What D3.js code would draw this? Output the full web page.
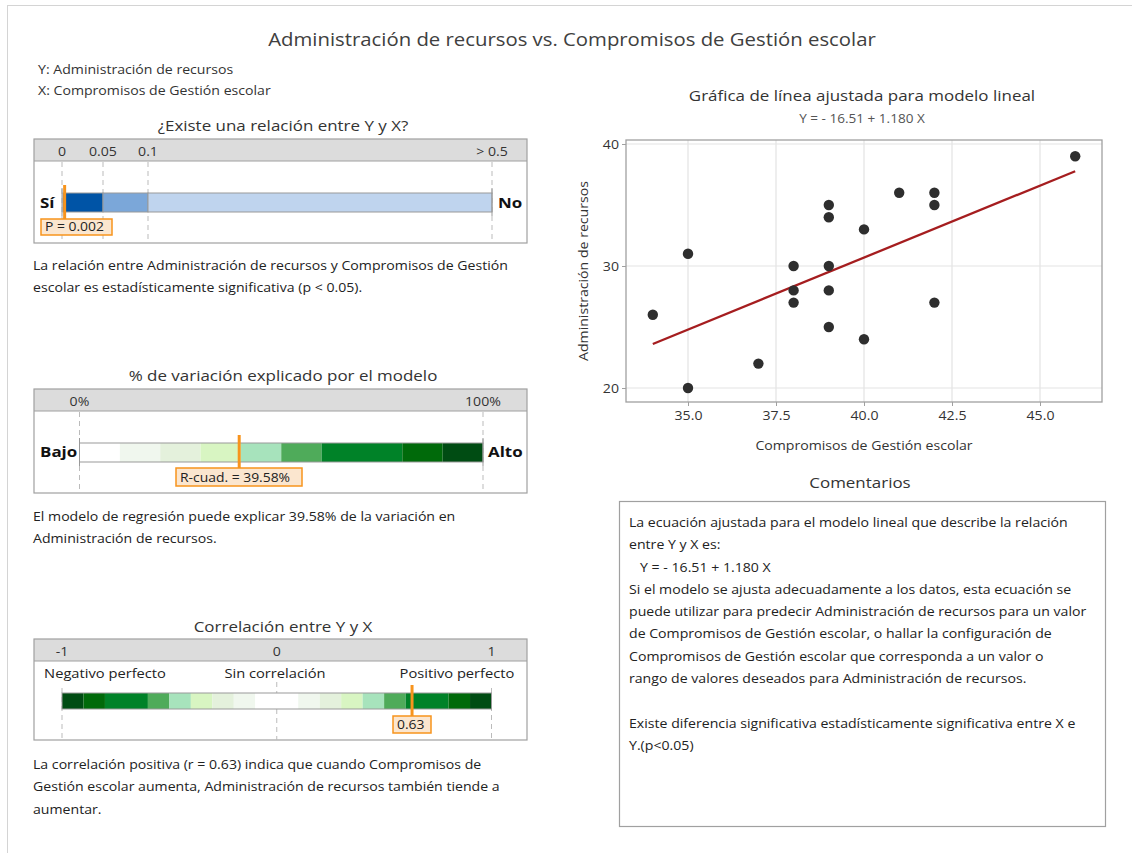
<!DOCTYPE html>
<html>
<head>
<meta charset="utf-8">
<script src="https://cdn.jsdelivr.net/npm/d3@7"></script>
<style>
  html, body { margin: 0; padding: 0; background: #fff; }
  svg text { font-family: "Open Sans", "Noto Sans", sans-serif; }
</style>
</head>
<body>
<svg id="chart" width="1132" height="853"></svg>
<script>
// ---------- DATA ----------
const xCompromisos = [34, 35, 35, 37, 38, 38, 38, 39, 39, 39, 39, 39, 40, 40, 41, 42, 42, 42, 46];
const yAdministracion = [26, 31, 20, 22, 30, 28, 27, 35, 34, 30, 28, 25, 33, 24, 36, 36, 35, 27, 39];
const intercept = -16.51;
const slope = 1.180;
const pValue = 0.002;
const rSquared = 39.58;
const rValue = 0.63;

const pTickValues = [0, 0.05, 0.1, 0.5];
const pTickLabels = ["0", "0.05", "0.1", "> 0.5"];
const pSegments = [[0, 0.05], [0.05, 0.1], [0.1, 0.5]];
const pColors = ["#0054a6", "#7ba7d9", "#bfd4ee"];

const r2TickValues = [0, 100];
const r2TickLabels = ["0%", "100%"];
const r2Bounds = [0, 10, 20, 30, 40, 50, 60, 80, 90, 100];
const greenColors = ["#ffffff", "#f0f7ee", "#e4f1dc", "#d8f5c2", "#a7e3bc", "#4fab5a", "#008228", "#006a0a", "#004c13"];

const rTickValues = [-1, 0, 1];
const rTickLabels = ["-1", "0", "1"];
const rBounds = [-1, -0.9, -0.8, -0.6, -0.5, -0.4, -0.3, -0.2, -0.1, 0.1, 0.2, 0.3, 0.4, 0.5, 0.6, 0.8, 0.9, 1];
const rColors = ["#004c13", "#006a0a", "#008228", "#4fab5a", "#a7e3bc", "#d8f5c2", "#e4f1dc", "#f0f7ee", "#ffffff",
                 "#f0f7ee", "#e4f1dc", "#d8f5c2", "#a7e3bc", "#4fab5a", "#008228", "#006a0a", "#004c13"];
const rLabels = ["Negativo perfecto", "Sin correlación", "Positivo perfecto"];

const xTicks = [35.0, 37.5, 40.0, 42.5, 45.0];
const yTicks = [20, 30, 40];

const commentLines = [
  "La ecuación ajustada para el modelo lineal que describe la relación",
  "entre Y y X es:",
  "   Y = - 16.51 + 1.180 X",
  "Si el modelo se ajusta adecuadamente a los datos, esta ecuación se",
  "puede utilizar para predecir Administración de recursos para un valor",
  "de Compromisos de Gestión escolar, o hallar la configuración de",
  "Compromisos de Gestión escolar que corresponda a un valor o",
  "rango de valores deseados para Administración de recursos.",
  "",
  "Existe diferencia significativa estadísticamente significativa entre X e",
  "Y.(p<0.05)"
];

// ---------- DRAW ----------
const svg = d3.select("#chart");
const textCol = "#333";
const orange = "#f7941d";

// page frame
svg.append("line").attr("x1", 7).attr("x2", 1132).attr("y1", 5.5).attr("y2", 5.5).attr("stroke", "#d4d4d4");
svg.append("line").attr("x1", 7.5).attr("x2", 7.5).attr("y1", 5).attr("y2", 853).attr("stroke", "#d4d4d4");

svg.append("text").attr("x", 572).attr("y", 46).attr("text-anchor", "middle")
  .attr("font-size", 18).attr("fill", "#404040")
  .text("Administración de recursos vs. Compromisos de Gestión escolar");

svg.append("text").attr("x", 38).attr("y", 74).attr("font-size", 12.5).attr("fill", textCol).text("Y: Administración de recursos");
svg.append("text").attr("x", 38).attr("y", 95).attr("font-size", 12.5).attr("fill", textCol).text("X: Compromisos de Gestión escolar");

function bodyText(lines, x, y0, dy) {
  lines.forEach((l, i) => {
    svg.append("text").attr("x", x).attr("y", y0 + i * dy).attr("font-size", 12.5).attr("fill", "#222").text(l);
  });
}

function panelBox(title, titleY, boxTop, boxBottom) {
  svg.append("text").attr("x", 283).attr("y", titleY).attr("text-anchor", "middle")
    .attr("font-size", 15).attr("fill", "#333").text(title);
  svg.append("rect").attr("x", 34).attr("y", boxTop).attr("width", 493).attr("height", 22)
    .attr("fill", "#dcdcdc");
  svg.append("rect").attr("x", 34).attr("y", boxTop).attr("width", 493).attr("height", boxBottom - boxTop)
    .attr("fill", "none").attr("stroke", "#a0a0a0").attr("stroke-width", 1.2);
  svg.append("line").attr("x1", 34).attr("x2", 527).attr("y1", boxTop + 22).attr("y2", boxTop + 22)
    .attr("stroke", "#a0a0a0").attr("stroke-width", 1.2);
}

function marker(x, yTop, yBot, label, lx0, lx1, ly0, ly1) {
  svg.append("rect").attr("x", lx0).attr("y", ly0).attr("width", lx1 - lx0).attr("height", ly1 - ly0)
    .attr("fill", "#fbe6cf").attr("stroke", orange).attr("stroke-width", 1.5);
  svg.append("text").attr("x", lx0 + 4).attr("y", ly1 - 4).attr("font-size", 12.3).attr("fill", "#222").text(label);
  svg.append("line").attr("x1", x).attr("x2", x).attr("y1", yTop).attr("y2", yBot)
    .attr("stroke", orange).attr("stroke-width", 3);
}

// ---- Panel 1: p-value ----
{
  const top = 139, bot = 243;
  panelBox("¿Existe una relación entre Y y X?", 131, top, bot);
  const px = d3.scaleLinear().domain(pTickValues).range([62, 103, 148, 492]);
  pTickValues.forEach((v, i) => {
    svg.append("text").attr("x", px(v)).attr("y", 156).attr("text-anchor", "middle")
      .attr("font-size", 12.5).attr("fill", textCol).text(pTickLabels[i]);
    svg.append("line").attr("x1", px(v)).attr("x2", px(v)).attr("y1", top + 23).attr("y2", bot)
      .attr("stroke", "#bbb").attr("stroke-dasharray", "5,4");
  });
  svg.selectAll(".pseg").data(pSegments).join("rect")
    .attr("x", d => px(d[0]) + (d[0] === 0 ? 1 : 0)).attr("y", 193)
    .attr("width", d => px(d[1]) - px(d[0]) - (d[0] === 0 ? 1 : 0)).attr("height", 19)
    .attr("fill", (d, i) => pColors[i]).attr("stroke", "#999").attr("stroke-width", 1);
  svg.append("line").attr("x1", px(0)).attr("x2", px(0)).attr("y1", 188).attr("y2", 216).attr("stroke", "#999");
  svg.append("line").attr("x1", px(0.5)).attr("x2", px(0.5)).attr("y1", 188).attr("y2", 216).attr("stroke", "#999");
  svg.append("text").attr("x", 40).attr("y", 208).attr("font-size", 15).attr("font-weight", "bold").attr("fill", "#111").text("Sí");
  svg.append("text").attr("x", 498).attr("y", 208).attr("font-size", 15).attr("font-weight", "bold").attr("fill", "#111").text("No");
  marker(px(pValue) + 1, 185, 219, "P = 0.002", 41, 112, 219, 235);
  bodyText(["La relación entre Administración de recursos y Compromisos de Gestión",
            "escolar es estadísticamente significativa (p < 0.05)."], 33, 270, 22.5);
}

// ---- Panel 2: R-squared ----
{
  const top = 389, bot = 493;
  panelBox("% de variación explicado por el modelo", 381, top, bot);
  const rx = d3.scaleLinear().domain([0, 100]).range([79.5, 483]);
  r2TickValues.forEach((v, i) => {
    svg.append("text").attr("x", rx(v)).attr("y", 406).attr("text-anchor", "middle")
      .attr("font-size", 12.5).attr("fill", textCol).text(r2TickLabels[i]);
    svg.append("line").attr("x1", rx(v)).attr("x2", rx(v)).attr("y1", top + 23).attr("y2", bot)
      .attr("stroke", "#bbb").attr("stroke-dasharray", "5,4");
  });
  const segs = d3.pairs(r2Bounds);
  svg.selectAll(".r2seg").data(segs).join("rect")
    .attr("x", d => rx(d[0])).attr("y", 443)
    .attr("width", d => rx(d[1]) - rx(d[0])).attr("height", 19)
    .attr("fill", (d, i) => greenColors[i]);
  svg.append("rect").attr("x", rx(0)).attr("y", 443).attr("width", rx(100) - rx(0)).attr("height", 19)
    .attr("fill", "none").attr("stroke", "#999");
  svg.append("line").attr("x1", rx(0)).attr("x2", rx(0)).attr("y1", 438).attr("y2", 466).attr("stroke", "#999");
  svg.append("line").attr("x1", rx(100)).attr("x2", rx(100)).attr("y1", 438).attr("y2", 466).attr("stroke", "#999");
  svg.append("text").attr("x", 40).attr("y", 457).attr("font-size", 15).attr("font-weight", "bold").attr("fill", "#111").text("Bajo");
  svg.append("text").attr("x", 488).attr("y", 457).attr("font-size", 15).attr("font-weight", "bold").attr("fill", "#111").text("Alto");
  marker(rx(rSquared), 435, 468, "R-cuad. = 39.58%", 176, 302, 468, 486);
  bodyText(["El modelo de regresión puede explicar 39.58% de la variación en",
            "Administración de recursos."], 33, 521, 22.5);
}

// ---- Panel 3: correlation ----
{
  const top = 639, bot = 740;
  panelBox("Correlación entre Y y X", 632, top, bot);
  const cx = d3.scaleLinear().domain([-1, 1]).range([62, 491.5]);
  rTickValues.forEach((v, i) => {
    svg.append("text").attr("x", cx(v)).attr("y", 656).attr("text-anchor", "middle")
      .attr("font-size", 12.5).attr("fill", textCol).text(rTickLabels[i]);
    svg.append("line").attr("x1", cx(v)).attr("x2", cx(v)).attr("y1", i === 1 ? 682 : 688).attr("y2", bot)
      .attr("stroke", "#bbb").attr("stroke-dasharray", "5,4");
  });
  const lblX = [105, 275, 457];
  rLabels.forEach((l, i) => {
    svg.append("text").attr("x", lblX[i]).attr("y", 678).attr("text-anchor", "middle")
      .attr("font-size", 13).attr("fill", "#222").text(l);
  });
  const segs = d3.pairs(rBounds);
  svg.selectAll(".rseg").data(segs).join("rect")
    .attr("x", d => cx(d[0])).attr("y", 693)
    .attr("width", d => cx(d[1]) - cx(d[0])).attr("height", 16)
    .attr("fill", (d, i) => rColors[i]);
  svg.append("rect").attr("x", cx(-1)).attr("y", 693).attr("width", cx(1) - cx(-1)).attr("height", 16)
    .attr("fill", "none").attr("stroke", "#999");
  marker(cx(rValue), 685, 716, "0.63", 393, 431, 716, 733);
  bodyText(["La correlación positiva (r = 0.63) indica que cuando Compromisos de",
            "Gestión escolar aumenta, Administración de recursos también tiende a",
            "aumentar."], 33, 769, 22.5);
}

// ---- Scatter plot ----
{
  const L = 626, R = 1102, T = 140, B = 402;
  const x = d3.scaleLinear().domain([35, 45]).range([688, 1040]);
  const y = d3.scaleLinear().domain([20, 40]).range([388, 144]);

  svg.append("text").attr("x", 862).attr("y", 101).attr("text-anchor", "middle")
    .attr("font-size", 15).attr("fill", "#333").text("Gráfica de línea ajustada para modelo lineal");
  svg.append("text").attr("x", 862).attr("y", 123).attr("text-anchor", "middle")
    .attr("font-size", 12).attr("fill", "#555").text("Y = - 16.51 + 1.180 X");

  const g = svg.append("g");
  xTicks.forEach(t => g.append("line").attr("x1", x(t)).attr("x2", x(t)).attr("y1", T).attr("y2", B)
    .attr("stroke", "#e3e3e3").attr("stroke-width", 1.2));
  yTicks.forEach(t => g.append("line").attr("x1", L).attr("x2", R).attr("y1", y(t)).attr("y2", y(t))
    .attr("stroke", "#e3e3e3").attr("stroke-width", 1.2));
  g.append("rect").attr("x", L).attr("y", T).attr("width", R - L).attr("height", B - T)
    .attr("fill", "none").attr("stroke", "#a0a0a0").attr("stroke-width", 1.3);

  const xAxis = d3.axisBottom(x).tickValues(xTicks).tickFormat(d3.format(".1f")).tickSize(4).tickSizeOuter(0);
  const xa = svg.append("g").attr("transform", `translate(0,${B})`).call(xAxis);
  xa.select(".domain").remove();
  xa.selectAll("line").attr("stroke", "#a0a0a0");
  xa.selectAll("text").attr("font-size", 12.5).attr("fill", "#333").attr("dy", "0.9em")
    .style("font-family", '"Open Sans", sans-serif');

  const yAxis = d3.axisLeft(y).tickValues(yTicks).tickSize(4).tickSizeOuter(0);
  const ya = svg.append("g").attr("transform", `translate(${L},0)`).call(yAxis);
  ya.select(".domain").remove();
  ya.selectAll("line").attr("stroke", "#a0a0a0");
  ya.selectAll("text").attr("font-size", 12.5).attr("fill", "#333")
    .style("font-family", '"Open Sans", sans-serif');

  svg.append("text").attr("transform", `translate(588,${(T + B) / 2}) rotate(-90)`)
    .attr("text-anchor", "middle").attr("font-size", 12.5).attr("fill", "#333").text("Administración de recursos");
  svg.append("text").attr("x", 864).attr("y", 450).attr("text-anchor", "middle")
    .attr("font-size", 12.5).attr("fill", "#333").text("Compromisos de Gestión escolar");

  const xmin = d3.min(xCompromisos), xmax = d3.max(xCompromisos);
  svg.append("line").attr("x1", x(xmin)).attr("y1", y(intercept + slope * xmin))
    .attr("x2", x(xmax)).attr("y2", y(intercept + slope * xmax))
    .attr("stroke", "#a51d1f").attr("stroke-width", 2.3);

  svg.selectAll(".pt").data(xCompromisos.map((v, i) => [v, yAdministracion[i]])).join("circle")
    .attr("cx", d => x(d[0])).attr("cy", d => y(d[1])).attr("r", 5.2).attr("fill", "#2e2e2e");
}

// ---- Comments ----
{
  svg.append("text").attr("x", 860).attr("y", 488).attr("text-anchor", "middle")
    .attr("font-size", 15).attr("fill", "#333").text("Comentarios");
  svg.append("rect").attr("x", 619.5).attr("y", 501.5).attr("width", 486).attr("height", 325)
    .attr("fill", "none").attr("stroke", "#a0a0a0").attr("stroke-width", 1.2);
  commentLines.forEach((l, i) => {
    svg.append("text").attr("x", 629).attr("y", 527 + i * 22.3).attr("font-size", 12.5)
      .attr("fill", "#222").attr("xml:space", "preserve").style("white-space", "pre").text(l);
  });
}

// ---- horizontal widening of all text to match the reference's wider type ----
const stretch = 1.13;
svg.selectAll("text").each(function () {
  const el = d3.select(this);
  const x = +(el.attr("x") || 0);
  const prev = el.attr("transform") || "";
  el.attr("transform", `${prev} translate(${x},0) scale(${stretch},1) translate(${-x},0)`);
});
</script>
</body>
</html>
